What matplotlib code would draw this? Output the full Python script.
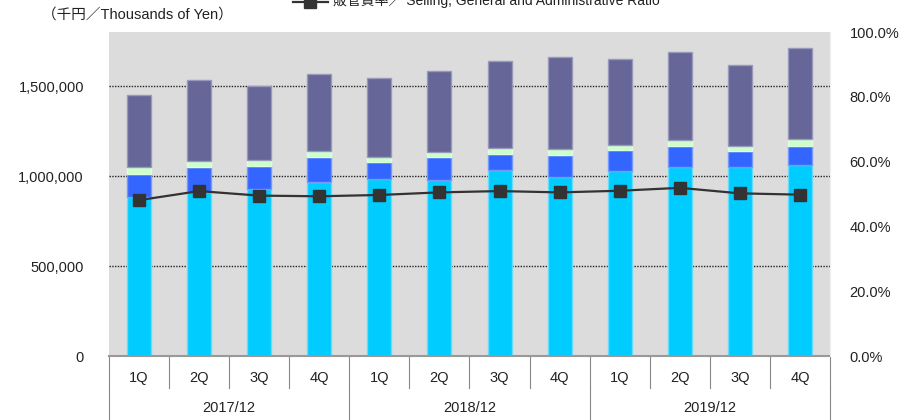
import matplotlib.pyplot as plt
import matplotlib.transforms as mtransforms
from matplotlib.lines import Line2D

plt.rcParams['font.family'] = ['Liberation Sans', 'Noto Sans CJK JP', 'DejaVu Sans']

quarters = ['1Q', '2Q', '3Q', '4Q'] * 3
years = ['2017/12', '2018/12', '2019/12']

# stacked segments, thousands of yen
seg_cyan = [885000, 910000, 928000, 965000, 981000, 980000, 1033000, 994000, 1028000, 1052000, 1052000, 1059000]
seg_blue = [128000, 142000, 129000, 139000, 95000, 124000, 91000, 124000, 116000, 116000, 85000, 108000]
seg_green = [37000, 31000, 32000, 35000, 31000, 29000, 33000, 32000, 28000, 30000, 30000, 39000]
seg_purple = [400000, 450000, 411000, 428000, 439000, 452000, 480000, 509000, 476000, 489000, 450000, 503000]

# SG&A ratio (%)
sga_ratio = [48.1, 50.9, 49.5, 49.3, 49.7, 50.5, 50.9, 50.5, 51.0, 51.9, 50.2, 49.8]

fig = plt.figure(figsize=(9.03, 4.20), dpi=100)
ax = fig.add_axes([109 / 903, 64 / 420, 721 / 903, 324 / 420])
ax.set_facecolor('#DCDCDC')

x = list(range(len(quarters)))
w = 0.4
bottom = [0] * len(x)
for vals, col, ec in [(seg_cyan, '#00CCFF', '#66DDFF'),
                      (seg_blue, '#3366FF', '#7799FF'),
                      (seg_green, '#CCFFCC', '#DDFFDD'),
                      (seg_purple, '#666699', '#9999BB')]:
    ax.bar(x, vals, w, bottom=bottom, color=col, edgecolor=ec, linewidth=1, zorder=2)
    bottom = [b + v for b, v in zip(bottom, vals)]

ax.set_xlim(-0.5, len(x) - 0.5)
ax.set_ylim(0, 1800000)
ax.set_yticks([0, 500000, 1000000, 1500000])
ax.set_yticklabels(['0', '500,000', '1,000,000', '1,500,000'], fontsize=10.5, color='#222222')
for gy in [500000, 1000000, 1500000]:
    ax.axhline(gy, color='#222222', linestyle=(0, (1, 1)), linewidth=1, zorder=1)
ax.tick_params(axis='y', length=0, pad=18)
ax.set_xticks([])
for s in ['top', 'left']:
    ax.spines[s].set_visible(False)
ax.spines['right'].set_color('#F0F0F0')
ax.spines['bottom'].set_color('#999999')
ax.spines['bottom'].set_linewidth(1.5)

ax2 = ax.twinx()
ax2.plot(x, sga_ratio, color='#333333', linewidth=1.6, marker='s', markersize=8,
         markerfacecolor='#333333', markeredgecolor='#333333', zorder=3)
ax2.set_ylim(0, 100)
ax2.set_yticks([0, 20, 40, 60, 80, 100])
ax2.set_yticklabels([f'{v:.1f}%' for v in [0, 20, 40, 60, 80, 100]], fontsize=10.5, color='#222222')
ax2.tick_params(axis='y', length=4, color='white', pad=10)
for s in ['top', 'left', 'bottom']:
    ax2.spines[s].set_visible(False)
ax2.spines['right'].set_color('#F0F0F0')

# two-level category axis
trans = mtransforms.blended_transform_factory(ax.transData, ax.transAxes)
for i, q in enumerate(quarters):
    ax.text(i, -0.067, q, transform=trans, ha='center', va='center', fontsize=10.5, color='#222222')
for b in range(len(x) + 1):
    ax.add_line(Line2D([b - 0.5, b - 0.5], [0, -0.1], transform=trans, color='#888888',
                       linewidth=0.8, clip_on=False))
for j, yr in enumerate(years):
    ax.text(j * 4 + 1.5, -0.16, yr, transform=trans, ha='center', va='center', fontsize=10.5, color='#222222')
for b in [0, 4, 8, 12]:
    ax.add_line(Line2D([b - 0.5, b - 0.5], [-0.1, -0.2], transform=trans, color='#888888',
                       linewidth=0.8, clip_on=False))

fig.text(42 / 903, 1 - 15 / 420, '（千円／Thousands of Yen）', ha='left', va='center', fontsize=10.5, color='#222222')

# legend, partly cut at top
ly = 1 - 2 / 420
fig.add_artist(Line2D([293 / 903, 328 / 903], [ly, ly], color='#333333', linewidth=1.6,
                      transform=fig.transFigure))
fig.add_artist(Line2D([310 / 903], [ly], color='#333333', marker='s', markersize=8,
                      transform=fig.transFigure))
fig.text(333 / 903, 1 - 1 / 420, '販管費率／ Selling, General and Administrative Ratio',
         ha='left', va='center', fontsize=10, color='#222222')

fig.savefig('out.png', dpi=100)
